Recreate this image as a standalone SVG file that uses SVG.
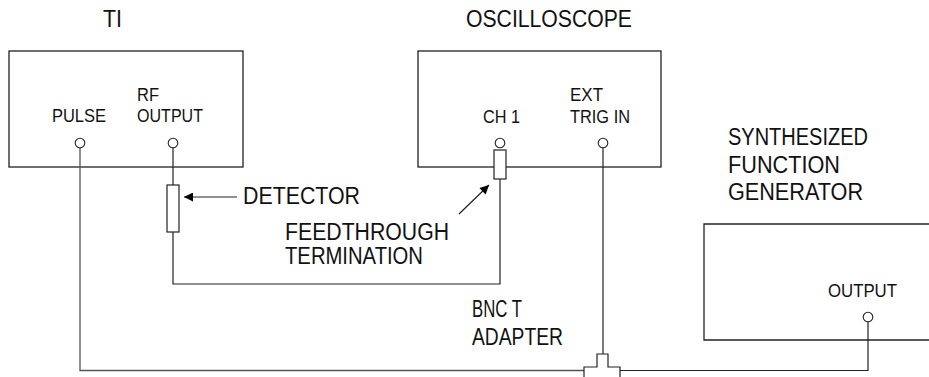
<svg xmlns="http://www.w3.org/2000/svg" width="929" height="377" viewBox="0 0 929 377">
<defs>
<style>
.box{fill:none;stroke:#222;stroke-width:1.3}
.w{fill:none;stroke:#222;stroke-width:1.2}
.g{fill:none;stroke:#555;stroke-width:1.3}
.jack{fill:#fff;stroke:#222;stroke-width:1.1}
.res{fill:#fff;stroke:#222;stroke-width:1.2}
.big{font-family:"Liberation Sans",Arial,sans-serif;font-size:23px;fill:#111}
.sm{font-family:"Liberation Sans",Arial,sans-serif;font-size:18px;fill:#111}
</style>
<marker id="ah" viewBox="0 0 10 10" refX="10" refY="5" markerWidth="15" markerHeight="9" markerUnits="userSpaceOnUse" orient="auto">
<path d="M0,0 L10,5 L0,10 z" fill="#000"/>
</marker>
</defs>

<g id="ti">
<text class="big" x="103" y="27" textLength="19" lengthAdjust="spacingAndGlyphs">TI</text>
<rect class="box" x="9" y="51" width="234" height="116"/>
<text class="sm" x="52" y="122" textLength="54" lengthAdjust="spacingAndGlyphs">PULSE</text>
<text class="sm" x="137" y="101" textLength="22" lengthAdjust="spacingAndGlyphs">RF</text>
<text class="sm" x="137" y="122" textLength="66" lengthAdjust="spacingAndGlyphs">OUTPUT</text>
</g>

<g id="oscilloscope">
<text class="big" x="466" y="27" textLength="166" lengthAdjust="spacingAndGlyphs">OSCILLOSCOPE</text>
<rect class="box" x="418" y="51" width="243" height="116"/>
<text class="sm" x="483" y="123" textLength="37" lengthAdjust="spacingAndGlyphs">CH 1</text>
<text class="sm" x="570" y="101" textLength="33" lengthAdjust="spacingAndGlyphs">EXT</text>
<text class="sm" x="570" y="123" textLength="60" lengthAdjust="spacingAndGlyphs">TRIG IN</text>
</g>

<g id="function-generator">
<text class="big" x="728" y="145" textLength="140" lengthAdjust="spacingAndGlyphs">SYNTHESIZED</text>
<text class="big" x="728" y="173" textLength="112" lengthAdjust="spacingAndGlyphs">FUNCTION</text>
<text class="big" x="728" y="200" textLength="135" lengthAdjust="spacingAndGlyphs">GENERATOR</text>
<path class="box" d="M935,224 H704 V340 H935"/>
<text class="sm" x="828" y="297" textLength="69" lengthAdjust="spacingAndGlyphs">OUTPUT</text>
</g>

<g id="connectors">
<path class="g" d="M80,148 V370.5 H584"/>
<path class="w" d="M173,148 V185"/>
<path class="w" d="M173,232 V284 H500 V179"/>
<path class="w" d="M603,148 V354"/>
<path class="w" d="M868,322 V370.5 H620"/>
<path class="w" d="M584,377 V367 H597 V354 H608 V367 H620 V377"/>
<path class="w" d="M237,197 H184" marker-end="url(#ah)"/>
<path class="w" d="M459,214 L489,185" marker-end="url(#ah)"/>
</g>

<g id="detector">
<rect class="res" x="167" y="185" width="12" height="47"/>
<text class="big" x="243" y="204" textLength="117" lengthAdjust="spacingAndGlyphs">DETECTOR</text>
</g>

<g id="feedthrough">
<rect class="res" x="494" y="150" width="12" height="29"/>
<text class="big" x="285" y="240" textLength="164" lengthAdjust="spacingAndGlyphs">FEEDTHROUGH</text>
<text class="big" x="285" y="264" textLength="138" lengthAdjust="spacingAndGlyphs">TERMINATION</text>
</g>

<g id="bnc-t">
<text class="big" x="472" y="317" textLength="50" lengthAdjust="spacingAndGlyphs">BNC T</text>
<text class="big" x="472" y="345" textLength="91" lengthAdjust="spacingAndGlyphs">ADAPTER</text>
</g>

<g id="jacks">
<circle class="jack" cx="80" cy="143" r="4.8"/>
<circle class="jack" cx="173" cy="143" r="4.8"/>
<circle class="jack" cx="500" cy="143" r="4.8"/>
<circle class="jack" cx="603" cy="143" r="4.8"/>
<circle class="jack" cx="868" cy="317" r="4.8"/>
</g>
</svg>
